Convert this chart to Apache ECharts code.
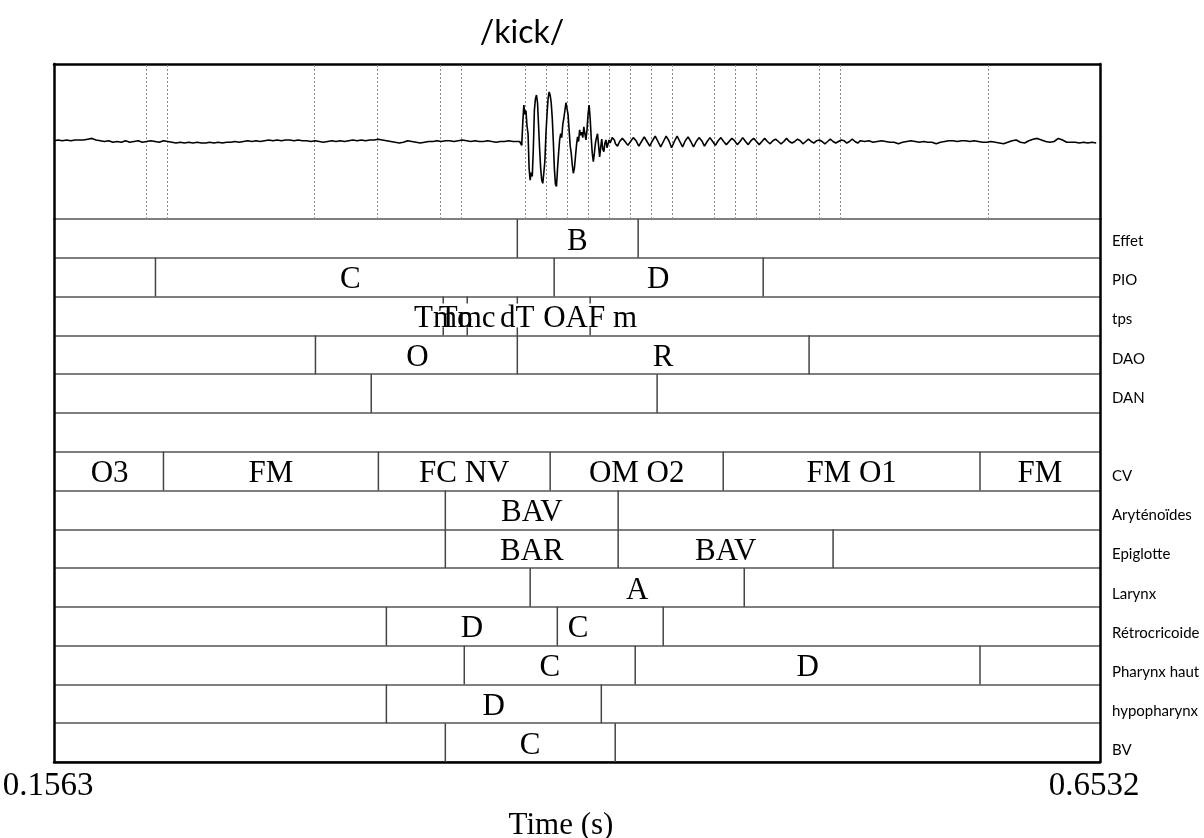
<!DOCTYPE html>
<html><head><meta charset="utf-8">
<script src="https://cdn.jsdelivr.net/npm/echarts@6/dist/echarts.min.js"></script>
<style>html,body{margin:0;padding:0;background:#fff}#c{width:1204px;height:838px}</style>
</head><body><div id="c"></div>
<script>
// ---------- data ----------
const chartTitle = '/kick/';
const timeMin = 0.1563, timeMax = 0.6532;
const timeTicks = [0.1563, 0.6532];
const tierNames = ['Effet','PIO','tps','DAO','DAN','','CV','Aryténoïdes','Epiglotte','Larynx','Rétrocricoide','Pharynx haut','hypopharynx','BV'];

// interval boundaries (s) per tier
const bEffet   = [0.3764, 0.4338];
const bPIO     = [0.2045, 0.3939, 0.4932];
const pTps     = [0.3412, 0.3526, 0.3764, 0.4110];   // point tier
const bDAO     = [0.2805, 0.3764, 0.5150];
const bDAN     = [0.3070, 0.4428];
const bEmpty   = [];
const bCV      = [0.2083, 0.3104, 0.3920, 0.4742, 0.5962];
const bAryt    = [0.3422, 0.4243];
const bEpi     = [0.3422, 0.4243, 0.5264];
const bLarynx  = [0.3825, 0.4842];
const bRetro   = [0.3142, 0.3954, 0.4457];
const bPharynx = [0.3512, 0.4324, 0.5962];
const bHypo    = [0.3142, 0.4163];
const bBV      = [0.3422, 0.4229];

// labels [time, text] per tier
const lEffet   = [[0.4049,'B']];
const lPIO     = [[0.2971,'C'],[0.4433,'D']];
const lTps     = [[0.3412,'Tmo'],[0.3526,'Tmc'],[0.3764,'dT'],[0.4110,'OAF m']];
const lDAO     = [[0.3289,'O'],[0.4457,'R']];
const lDAN     = [];
const lEmpty   = [];
const lCV      = [[0.1827,'O3'],[0.2593,'FM'],[0.3512,'FC NV'],[0.4331,'OM O2'],[0.5352,'FM O1'],[0.6247,'FM']];
const lAryt    = [[0.3833,'BAV']];
const lEpi     = [[0.3833,'BAR'],[0.4754,'BAV']];
const lLarynx  = [[0.4334,'A']];
const lRetro   = [[0.3548,'D'],[0.4053,'C']];
const lPharynx = [[0.3918,'C'],[0.5143,'D']];
const lHypo    = [[0.3652,'D']];
const lBV      = [[0.3825,'C']];

// waveform samples (relative amplitude)
const quietStart = 0.1563, quietStep = 0.002;
const waveQuiet = [
 0.01,0.02,0.01,0.02,0.01,0.02,0.02,
 0.02,0.03,0.04,0.02,0.01,
 0.00,0.01,-0.01,0.00,-0.01,0.01,-0.01,0.00,0.01,-0.01,0.00,0.01,
 0.00,-0.01,0.01,0.00,-0.01,-0.02,-0.01,-0.02,-0.01,-0.02,-0.01,-0.02,
 -0.02,-0.01,-0.02,-0.01,-0.02,-0.01,-0.01,0.00,-0.01,0.00,0.01,0.00,
 0.01,0.00,0.01,0.02,0.01,0.02,0.01,0.02,0.02,0.01,0.02,0.01,
 0.01,0.00,0.01,0.00,-0.01,0.00,0.01,0.00,0.01,0.00,0.01,0.02,
 0.01,0.02,0.01,0.02,0.02,0.03,0.02,0.01,0.00,-0.01,-0.02,-0.01,
 0.01,0.00,-0.01,-0.02,-0.01,0.00,0.00,0.01,0.00,0.01,0.01,0.00,
 0.01,0.02,0.01,0.00,0.01,0.00,0.00,0.01,0.00,-0.01,0.00,0.00,0.01,0.00,0.00
];
const burstStart = 0.3775, burstStep = 0.0005;
const waveBurst = [
 0.00,-0.02,-0.05,0.25,0.47,0.35,0.40,0.20,0.10,-0.35,
 -0.50,-0.40,-0.45,-0.10,0.40,0.55,0.60,0.50,0.20,-0.10,
 -0.35,-0.50,-0.54,-0.40,-0.25,0.10,0.35,0.55,0.64,0.60,
 0.50,0.30,0.00,-0.35,-0.55,-0.58,-0.35,-0.15,0.02,0.10,
 0.05,0.22,0.30,0.40,0.50,0.51,0.35,0.15,-0.05,-0.15,
 -0.30,-0.41,-0.35,-0.20,-0.05,0.06,0.00,0.15,0.08,0.12,
 0.05,0.19,0.10,0.02,0.15,0.35,0.47,0.30,0.05,-0.15,
 -0.26,-0.15,-0.02,0.05,0.10,-0.05,-0.20,-0.08,0.03,-0.10,
 -0.13,-0.02,0.02,-0.08,-0.06,0.02,-0.02,0.00,0.05,0.07,
 0.02,-0.03,-0.05,-0.06,-0.04
];
const ringStart = 0.4250, ringStep = 0.0013;
const waveRing = [
 0.00,0.04,0.00,-0.05, 0.00,0.05,0.01,-0.06, 0.00,0.06,0.00,-0.06, 0.01,0.07,0.00,-0.07,
 0.00,0.07,0.01,-0.08, 0.00,0.07,0.00,-0.07, 0.01,0.06,0.00,-0.07, 0.00,0.05,0.01,-0.06,
 0.00,0.05,0.00,-0.05, 0.01,0.05,0.00,-0.04, 0.00,0.04,0.01,-0.04, 0.00,0.05,0.00,-0.04,
 0.01,0.04,0.00,-0.04, 0.00,0.04,0.00,-0.03, 0.01,0.03,0.00,-0.03, 0.00,0.04,0.00,-0.02,
 0.00,0.03,0.01,-0.03, 0.00,0.03,0.00,-0.02, 0.01,0.02,0.00,-0.03, 0.00,0.03,0.00,-0.02,
 0.00,0.02,0.01,-0.02, 0.00,0.03,0.00,-0.02
];
const tailStart = 0.5394, tailStep = 0.002;
const waveTail = [
 0.01,0.00,0.01,-0.01,0.00,0.01,0.00,-0.01,-0.01,-0.03,
 -0.01,0.00,0.01,0.00,-0.01,0.00,-0.01,-0.01,-0.03,-0.01,
 0.00,0.01,0.01,0.00,0.01,0.01,0.00,0.01,0.00,-0.01,
 -0.01,0.00,-0.01,-0.02,-0.03,-0.01,0.01,0.02,-0.01,-0.02,
 0.01,0.03,0.04,0.02,0.00,-0.01,0.00,0.04,0.02,-0.01,
 -0.01,-0.01,-0.02,-0.01,-0.02,-0.01,-0.02
];

// ---------- build ----------
const tierBounds = [bEffet,bPIO,pTps,bDAO,bDAN,bEmpty,bCV,bAryt,bEpi,bLarynx,bRetro,bPharynx,bHypo,bBV];
const tierLabels = [lEffet,lPIO,lTps,lDAO,lDAN,lEmpty,lCV,lAryt,lEpi,lLarynx,lRetro,lPharynx,lHypo,lBV];
const pointTierIndex = 2;

const boundaryItems = [];
tierBounds.forEach((arr,k)=>arr.forEach(t=>boundaryItems.push([t,k,k===pointTierIndex?1:0])));
const labelItems = [], labelTexts = [];
tierLabels.forEach((arr,k)=>arr.forEach(([t,txt])=>{labelItems.push([t,k]);labelTexts.push(txt);}));
const allBounds = Array.from(new Set(tierBounds.flat())).sort((a,b)=>a-b);

const wavePoints = [];
[[quietStart,quietStep,waveQuiet],[burstStart,burstStep,waveBurst],[ringStart,ringStep,waveRing],[tailStart,tailStep,waveTail]]
  .forEach(([s,st,vals])=>vals.forEach((v,i)=>wavePoints.push([+(s+i*st).toFixed(5),v])));

const BLACK_LINE = {show:true, onZero:false, lineStyle:{color:'#000', width:2.5}};
const SERIF = '"Liberation Serif", "Times New Roman", serif';
const SANS = 'Lato, "Open Sans", sans-serif';
const HIDDEN = {show:false};

const chart = echarts.init(document.getElementById('c'));
chart.setOption({
  animation:false,
  backgroundColor:'#fff',
  title:{text:chartTitle, left:522, top:17, padding:0, textAlign:'center',
    textStyle:{fontFamily:SANS, fontSize:32, fontWeight:'normal', color:'#000'}},
  grid:[
    {left:54, right:104, top:64, height:155, containLabel:false, outerBoundsMode:'none'},
    {left:54, right:104, top:219, height:543, containLabel:false, outerBoundsMode:'none'},
    {left:54, right:104, top:221.6, height:548.5, containLabel:false, outerBoundsMode:'none'}
  ],
  xAxis:[
    {gridIndex:0, type:'value', min:timeMin, max:timeMax, position:'top',
     axisLine:BLACK_LINE, axisTick:HIDDEN, axisLabel:HIDDEN, splitLine:HIDDEN},
    {gridIndex:1, type:'value', min:timeMin, max:timeMax, position:'bottom',
     axisLine:BLACK_LINE, axisTick:HIDDEN, splitLine:HIDDEN,
     axisLabel:{customValues:timeTicks, formatter:v=>v.toFixed(4), fontFamily:SERIF, fontSize:33, color:'#000', margin:8, padding:[0,12,0,0]},
     name:'Time (s)', nameLocation:'middle', nameGap:48,
     nameTextStyle:{fontFamily:SERIF, fontSize:31, color:'#000', padding:[0,32,0,0]}},
    {gridIndex:2, type:'value', min:timeMin, max:timeMax, show:false}
  ],
  yAxis:[
    {gridIndex:0, type:'value', min:-1, max:1, axisLine:BLACK_LINE, axisTick:HIDDEN, axisLabel:HIDDEN, splitLine:HIDDEN},
    {gridIndex:0, type:'value', min:-1, max:1, position:'right', axisLine:BLACK_LINE, axisTick:HIDDEN, axisLabel:HIDDEN, splitLine:HIDDEN},
    {gridIndex:1, type:'value', min:0, max:14, interval:1, inverse:true, axisLine:BLACK_LINE, axisTick:HIDDEN, axisLabel:HIDDEN,
     splitLine:{show:true, lineStyle:{color:'#555', width:1.5}}},
    {gridIndex:1, type:'value', min:0, max:14, interval:1, inverse:true, position:'right', axisLine:BLACK_LINE, axisTick:HIDDEN, axisLabel:HIDDEN, splitLine:HIDDEN},
    {gridIndex:2, type:'category', data:tierNames, inverse:true, position:'right', axisLine:HIDDEN, axisTick:HIDDEN,
     axisLabel:{interval:0, fontFamily:SANS, fontSize:15, color:'#000', margin:12}, splitLine:HIDDEN}
  ],
  series:[
    {type:'line', xAxisIndex:0, yAxisIndex:0, data:wavePoints, showSymbol:false, symbol:'none',
     lineStyle:{color:'#000', width:1.6}, silent:true, z:5,
     markLine:{silent:true, symbol:['none','none'], label:{show:false}, animation:false,
       lineStyle:{color:'#8c8c8c', width:1, type:[2,2]},
       data:allBounds.map(t=>({xAxis:t}))}},
    {type:'custom', xAxisIndex:1, yAxisIndex:2, data:boundaryItems, silent:true,
     renderItem:(params, api)=>{
       const t=api.value(0), k=api.value(1), kind=api.value(2);
       const p0=api.coord([t,k]), p1=api.coord([t,k+1]);
       const st={stroke:'#444', lineWidth:1.5};
       if(kind===1){
         return {type:'group', children:[
           {type:'line', shape:{x1:p0[0],y1:p0[1],x2:p0[0],y2:p0[1]+7}, style:st},
           {type:'line', shape:{x1:p1[0],y1:p1[1]-8,x2:p1[0],y2:p1[1]}, style:st}
         ]};
       }
       return {type:'line', shape:{x1:p0[0],y1:p0[1],x2:p1[0],y2:p1[1]}, style:st};
     }},
    {type:'custom', xAxisIndex:1, yAxisIndex:2, data:labelItems, silent:true,
     renderItem:(params, api)=>{
       const p=api.coord([api.value(0), api.value(1)+0.5]);
       return {type:'text', x:p[0], y:p[1]+3, style:{text:labelTexts[params.dataIndex], fontFamily:SERIF, fontSize:31, fill:'#000', align:'center', verticalAlign:'middle'}};
     }}
  ]
});
</script>
</body></html>
